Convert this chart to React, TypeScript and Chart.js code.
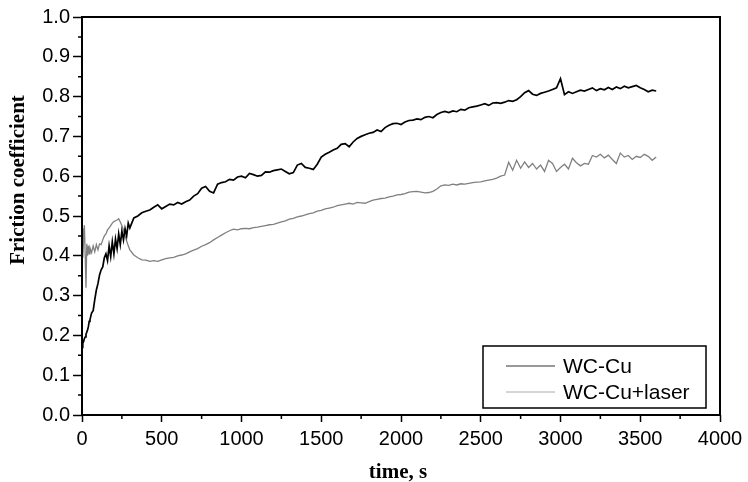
import { useEffect, useRef } from "react";
import { Chart, registerables } from "chart.js";
Chart.register(...registerables);

// Sampling times (s)
const times = [
  0, 5, 10, 15, 20, 25, 30, 35, 40, 45, 50,
  60, 70, 80, 90, 100, 110, 120, 130, 140, 150, 160, 170, 180, 190, 200,
  210, 220, 230, 240, 250, 260, 270, 280, 290, 300,
  325, 350, 375, 400, 425, 450, 475, 500, 525, 550,
  575, 600, 625, 650, 675, 700, 725, 750, 775, 800,
  825, 850, 875, 900, 925, 950, 975, 1000, 1025, 1050,
  1075, 1100, 1125, 1150, 1175, 1200, 1225, 1250, 1275, 1300,
  1325, 1350, 1375, 1400, 1425, 1450, 1475, 1500, 1525, 1550,
  1575, 1600, 1625, 1650, 1675, 1700, 1725, 1750, 1775, 1800,
  1825, 1850, 1875, 1900, 1925, 1950, 1975, 2000, 2025, 2050,
  2075, 2100, 2125, 2150, 2175, 2200, 2225, 2250, 2275, 2300,
  2325, 2350, 2375, 2400, 2425, 2450, 2475, 2500, 2525, 2550,
  2575, 2600, 2625, 2650, 2675, 2700, 2725, 2750, 2775, 2800,
  2825, 2850, 2875, 2900, 2925, 2950, 2975, 3000, 3025, 3050,
  3075, 3100, 3125, 3150, 3175, 3200, 3225, 3250, 3275, 3300,
  3325, 3350, 3375, 3400, 3425, 3450, 3475, 3500, 3525, 3550,
  3575, 3600,
];

// WC-Cu friction coefficient
const wcCu = [
  0.170, 0.180, 0.185, 0.192, 0.196, 0.203, 0.208, 0.214, 0.222, 0.235, 0.240,
  0.256, 0.262, 0.290, 0.314, 0.330, 0.352, 0.365, 0.372, 0.395, 0.405, 0.388, 0.425, 0.398, 0.435, 0.405,
  0.442, 0.418, 0.455, 0.428, 0.462, 0.440, 0.468, 0.450, 0.482, 0.470,
  0.495, 0.500, 0.508, 0.512, 0.515, 0.522, 0.528, 0.518, 0.524, 0.530,
  0.528, 0.534, 0.530, 0.536, 0.540, 0.550, 0.556, 0.570, 0.574, 0.562,
  0.558, 0.580, 0.584, 0.586, 0.592, 0.590, 0.598, 0.600, 0.596, 0.607,
  0.604, 0.600, 0.602, 0.611, 0.610, 0.614, 0.616, 0.618, 0.612, 0.606,
  0.609, 0.628, 0.632, 0.622, 0.620, 0.617, 0.630, 0.648, 0.655, 0.660,
  0.666, 0.670, 0.680, 0.682, 0.674, 0.686, 0.695, 0.700, 0.704, 0.708,
  0.710, 0.716, 0.712, 0.722, 0.728, 0.732, 0.733, 0.730, 0.736, 0.740,
  0.741, 0.744, 0.742, 0.748, 0.750, 0.747, 0.755, 0.760, 0.763, 0.760,
  0.764, 0.762, 0.768, 0.766, 0.772, 0.774, 0.776, 0.779, 0.782, 0.778,
  0.784, 0.785, 0.783, 0.786, 0.790, 0.788, 0.792, 0.800, 0.810, 0.815,
  0.806, 0.803, 0.808, 0.811, 0.814, 0.818, 0.822, 0.845, 0.805, 0.812,
  0.808, 0.812, 0.816, 0.814, 0.818, 0.822, 0.815, 0.820, 0.817, 0.823,
  0.818, 0.824, 0.820, 0.826, 0.822, 0.825, 0.828, 0.822, 0.818, 0.812,
  0.816, 0.814,
];

// WC-Cu+laser friction coefficient
const wcCuLaser = [
  0.470, 0.395, 0.440, 0.477, 0.400, 0.320, 0.430, 0.400, 0.425, 0.405, 0.420,
  0.408, 0.425, 0.410, 0.428, 0.415, 0.430, 0.428, 0.440, 0.450, 0.455, 0.465, 0.470, 0.476, 0.482, 0.486,
  0.488, 0.490, 0.493, 0.485, 0.476, 0.465, 0.450, 0.437, 0.425, 0.415,
  0.402, 0.395, 0.390, 0.389, 0.386, 0.388, 0.386, 0.390, 0.393, 0.395,
  0.396, 0.400, 0.402, 0.405, 0.410, 0.414, 0.418, 0.424, 0.428, 0.433,
  0.440, 0.446, 0.452, 0.458, 0.463, 0.467, 0.465, 0.468, 0.469, 0.468,
  0.471, 0.472, 0.474, 0.476, 0.478, 0.479, 0.482, 0.485, 0.488, 0.492,
  0.494, 0.498, 0.500, 0.503, 0.506, 0.508, 0.512, 0.514, 0.518, 0.520,
  0.522, 0.526, 0.528, 0.530, 0.532, 0.530, 0.534, 0.533, 0.532, 0.536,
  0.540, 0.542, 0.544, 0.545, 0.548, 0.550, 0.553, 0.554, 0.556, 0.560,
  0.561, 0.562, 0.560, 0.558, 0.559, 0.562, 0.568, 0.576, 0.578, 0.577,
  0.580, 0.578, 0.581, 0.580, 0.582, 0.584, 0.585, 0.586, 0.588, 0.590,
  0.592, 0.595, 0.600, 0.603, 0.635, 0.615, 0.640, 0.620, 0.636, 0.622,
  0.632, 0.618, 0.628, 0.612, 0.640, 0.632, 0.612, 0.622, 0.630, 0.618,
  0.645, 0.634, 0.626, 0.632, 0.630, 0.652, 0.648, 0.655, 0.646, 0.653,
  0.642, 0.632, 0.658, 0.648, 0.652, 0.642, 0.650, 0.647, 0.655, 0.650,
  0.640, 0.648,
];

const seriesLabels = ["WC-Cu", "WC-Cu+laser"];
const xMinorTicks = [250, 750, 1250, 1750, 2250, 2750, 3250, 3750];
const yMinorTicks = [0.05, 0.15, 0.25, 0.35, 0.45, 0.55, 0.65, 0.75, 0.85, 0.95];
const xTitle = "time, s";
const yTitle = "Friction coefficient";

const SANS = "'Liberation Sans', Arial, sans-serif";
const SERIF = "'Liberation Serif', 'Times New Roman', serif";

const decorPlugin = {
  id: "decor",
  afterDraw(chart: any) {
    const { ctx, chartArea, scales } = chart;
    const { left, right, top, bottom } = chartArea;
    ctx.save();
    // frame
    ctx.strokeStyle = "#000";
    ctx.lineWidth = 2;
    ctx.strokeRect(left, top, right - left, bottom - top);
    // minor ticks
    ctx.lineWidth = 1.5;
    ctx.beginPath();
    for (const v of xMinorTicks) {
      const px = scales.x.getPixelForValue(v);
      ctx.moveTo(px, bottom);
      ctx.lineTo(px, bottom + 4);
    }
    for (const v of yMinorTicks) {
      const py = scales.y.getPixelForValue(v);
      ctx.moveTo(left - 4, py);
      ctx.lineTo(left, py);
    }
    ctx.stroke();
    // axis titles
    ctx.fillStyle = "#000";
    ctx.font = `bold 21px ${SERIF}`;
    ctx.textAlign = "center";
    ctx.textBaseline = "alphabetic";
    ctx.fillText(xTitle, (left + right) / 2 - 3, 478);
    ctx.save();
    ctx.translate(24, 180);
    ctx.rotate(-Math.PI / 2);
    ctx.fillText(yTitle, 0, 0);
    ctx.restore();
    // legend
    const bx = right - 237;
    const by = bottom - 69;
    const bw = 223;
    const bh = 62;
    ctx.fillStyle = "#fff";
    ctx.fillRect(bx, by, bw, bh);
    ctx.strokeStyle = "#000";
    ctx.lineWidth = 1.5;
    ctx.strokeRect(bx, by, bw, bh);
    const legendColors = ["#333", "#aaa"];
    chart.data.datasets.forEach((ds: any, i: number) => {
      const cy = by + 20 + i * 26;
      ctx.strokeStyle = legendColors[i];
      ctx.lineWidth = 1;
      ctx.beginPath();
      ctx.moveTo(bx + 23, cy);
      ctx.lineTo(bx + 72, cy);
      ctx.stroke();
      ctx.fillStyle = "#000";
      ctx.font = `21px ${SANS}`;
      ctx.textAlign = "left";
      ctx.textBaseline = "middle";
      ctx.fillText(ds.label, bx + 80, cy + 1);
    });
    ctx.restore();
  },
};

export default function App() {
  const ref = useRef<HTMLCanvasElement>(null);
  useEffect(() => {
    if (!ref.current) return;
    const chart = new Chart(ref.current, {
      type: "line",
      data: {
        datasets: [
          {
            label: seriesLabels[0],
            data: times.map((t, i) => ({ x: t, y: wcCu[i] })),
            borderColor: "#000",
            borderWidth: 1.7,
            pointRadius: 0,
            tension: 0,
          },
          {
            label: seriesLabels[1],
            data: times.map((t, i) => ({ x: t, y: wcCuLaser[i] })),
            borderColor: "#808080",
            borderWidth: 1.3,
            pointRadius: 0,
            tension: 0,
          },
        ],
      },
      options: {
        responsive: false,
        animation: false,
        layout: { padding: { top: 17, right: 28, left: 0, bottom: 0 } },
        plugins: { legend: { display: false }, tooltip: { enabled: false } },
        scales: {
          x: {
            type: "linear",
            min: 0,
            max: 4000,
            ticks: {
              stepSize: 500,
              color: "#000",
              font: { family: SANS, size: 20 },
              padding: 5,
              maxRotation: 0,
              callback: (v: any) => String(v),
            },
            grid: {
              drawOnChartArea: false,
              drawTicks: true,
              tickLength: 7,
              tickWidth: 1.5,
              tickColor: "#000",
            },
            border: { display: false },
            afterFit: (s: any) => {
              s.height = 67;
            },
          },
          y: {
            type: "linear",
            min: 0,
            max: 1,
            ticks: {
              stepSize: 0.1,
              color: "#000",
              font: { family: SANS, size: 20 },
              padding: 3,
              callback: (v: any) => Number(v).toFixed(1),
            },
            grid: {
              drawOnChartArea: false,
              drawTicks: true,
              tickLength: 9,
              tickWidth: 1.5,
              tickColor: "#000",
            },
            border: { display: false },
            afterFit: (s: any) => {
              s.width = 82;
            },
          },
        },
      },
      plugins: [decorPlugin],
    });
    return () => chart.destroy();
  }, []);
  return (
    <div style={{ position: "fixed", left: 0, top: 0, width: 748, height: 482, background: "#fff" }}>
      <canvas ref={ref} width={748} height={482} style={{ width: 748, height: 482 }} />
    </div>
  );
}
